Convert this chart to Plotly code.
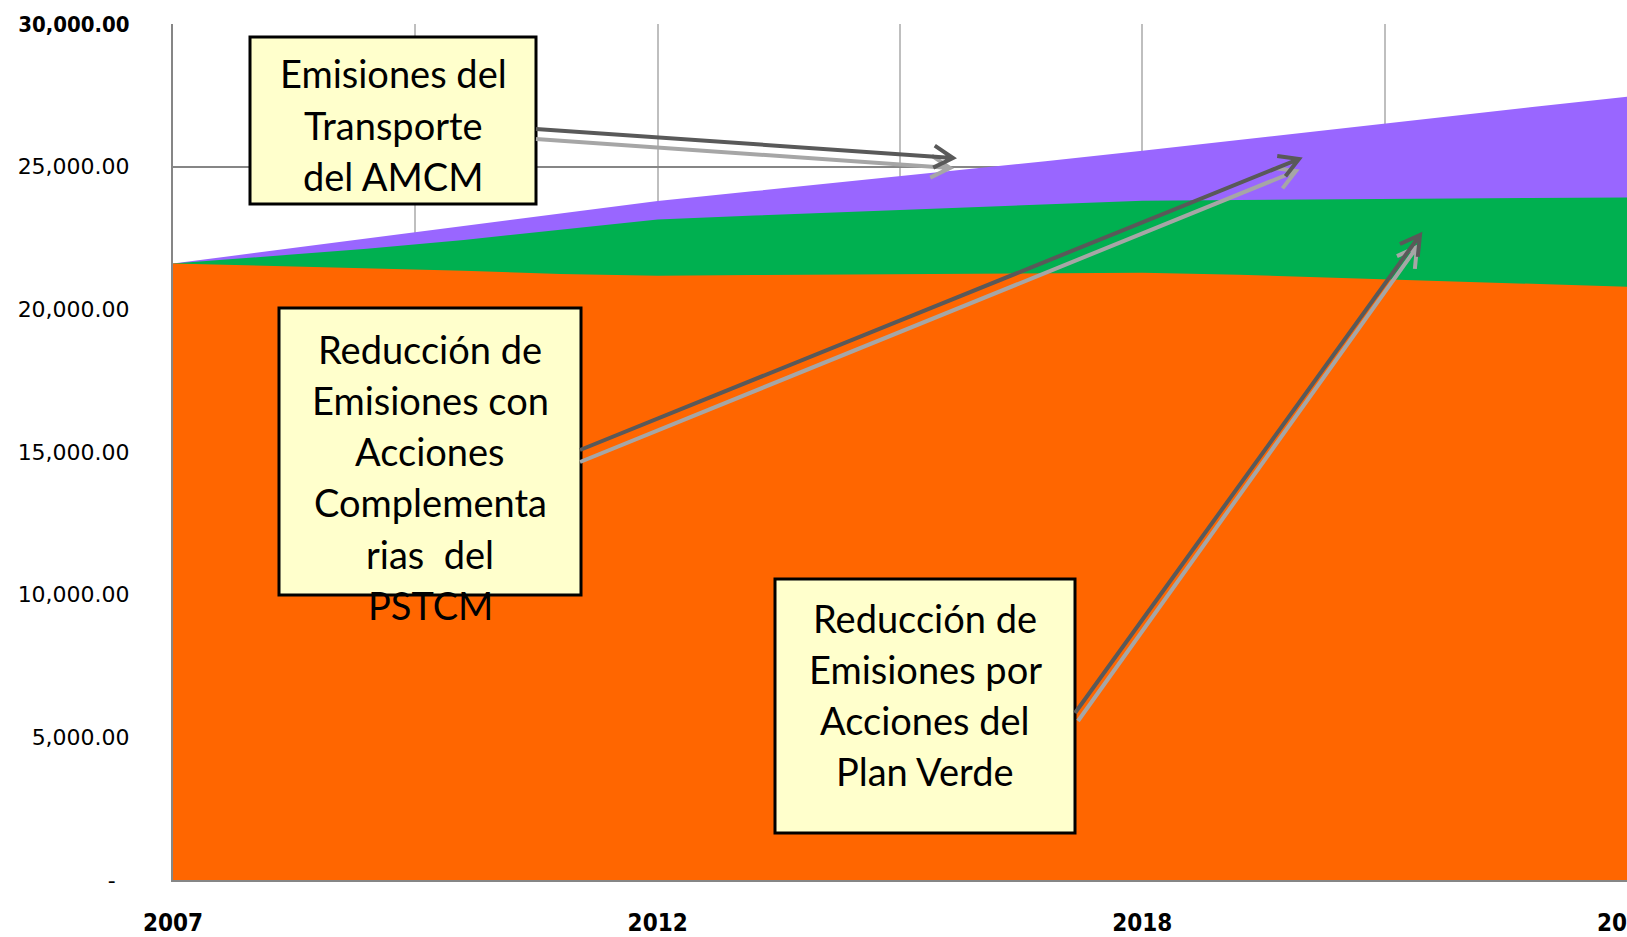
"""
Emisiones del transporte del AMCM - area chart with callout boxes
"""

import math
import plotly.graph_objects as go

# --- data ---
period_idx = list(range(16))
transport_total = [21605, 22046, 22488, 22925, 23357, 23800, 24144, 24488,
                   24832, 25190, 25555, 25938, 26330, 26711, 27082, 27450]
with_plan_verde = [21605, 21860, 22120, 22430, 22800, 23150, 23287, 23420,
                   23552, 23677, 23805, 23830, 23860, 23890, 23905, 23920]
with_pstcm = [21605, 21522, 21438, 21350, 21240, 21175, 21200, 21225,
              21245, 21265, 21280, 21215, 21110, 20980, 20880, 20790]

x_tick_pos = [0, 2.5, 5, 7.5, 10, 12.5, 15]
x_tick_labels = ['2007', '', '2012', '', '2018', '', '2023']
y_tick_vals = [0, 5000, 10000, 15000, 20000, 25000, 30000]
y_tick_labels = ['-  ', '5,000.00', '10,000.00', '15,000.00', '20,000.00',
                 '25,000.00',
                 '<span style="font-family:DejaVu Sans Condensed;font-weight:bold">30,000.00</span>']

box_texts = [
    ['Emisiones del', 'Transporte', 'del AMCM'],
    ['Reducción de', 'Emisiones con', 'Acciones', 'Complementa', 'rias  del', 'PSTCM'],
    ['Reducción de', 'Emisiones por', 'Acciones del', 'Plan Verde'],
]

# plot area in pixels (figure is 1627 x 937)
PL, PR, PT, PB = 173, 1627, 24, 880


def to_paper(x, y):
    """pixel position -> paper coordinates"""
    return (x - PL) / (PR - PL), (PB - y) / (PB - PT)


def arrow_path(x0, y0, x1, y1, head=22, ang=30):
    dx, dy = x1 - x0, y1 - y0
    L = math.hypot(dx, dy)
    ux, uy = -dx / L, -dy / L
    pts = []
    for s in (1, -1):
        a = math.radians(ang * s)
        bx = ux * math.cos(a) - uy * math.sin(a)
        by = ux * math.sin(a) + uy * math.cos(a)
        pts.append((x1 + bx * head, y1 + by * head))
    p = [to_paper(*q) for q in [(x0, y0), (x1, y1), pts[0], pts[1]]]
    return (f"M {p[0][0]} {p[0][1]} L {p[1][0]} {p[1][1]} "
            f"M {p[2][0]} {p[2][1]} L {p[1][0]} {p[1][1]} L {p[3][0]} {p[3][1]}")


fig = go.Figure()

series = [
    ('Emisiones del Transporte del AMCM', transport_total, '#9966FF'),
    ('Con acciones del Plan Verde', with_plan_verde, '#00B050'),
    ('Con acciones complementarias del PSTCM', with_pstcm, '#FF6600'),
]
for name, vals, color in series:
    fig.add_trace(go.Scatter(
        x=period_idx, y=vals, name=name, mode='lines',
        line=dict(width=0, color=color),
        fill='tozeroy', fillcolor=color,
        hoverinfo='skip'
    ))

shapes = []
annotations = []

# callout boxes (pixel rects) and their text lines
boxes = [
    ((250, 37, 536, 204), 393, [73, 125, 176]),
    ((279, 308, 581, 595), 430, [349, 400, 451, 502, 554, 605]),
    ((775, 579, 1075, 833), 925, [618, 669, 720, 771]),
]
for (x0, y0, x1, y1), cx, line_y in boxes:
    a0 = to_paper(x0, y1)
    a1 = to_paper(x1, y0)
    shapes.append(dict(type='rect', xref='paper', yref='paper',
                       x0=a0[0], y0=a0[1], x1=a1[0], y1=a1[1],
                       fillcolor='#FFFFCC', line=dict(color='black', width=3),
                       layer='above'))
for ((_, _, _, _), cx, line_y), lines in zip(boxes, box_texts):
    for ly, txt in zip(line_y, lines):
        px_, py_ = to_paper(cx, ly)
        annotations.append(dict(x=px_, y=py_, xref='paper', yref='paper',
                                text=txt, showarrow=False,
                                xanchor='center', yanchor='middle',
                                font=dict(family='Lato, Carlito, sans-serif',
                                          size=38, color='black')))

# double arrows: light shadow underneath, dark on top
arrows = [
    ((536, 139, 950, 168), (536, 129, 953, 158)),
    ((580, 462, 1296, 171), (580, 450, 1299, 159)),
    ((1078, 721, 1417, 247), (1075, 713, 1420, 235)),
]
for light, dark in arrows:
    shapes.append(dict(type='path', xref='paper', yref='paper',
                       path=arrow_path(*light), layer='above',
                       line=dict(color='#A6A6A6', width=4)))
    shapes.append(dict(type='path', xref='paper', yref='paper',
                       path=arrow_path(*dark), layer='above',
                       line=dict(color='#595959', width=4)))

fig.update_layout(
    width=1627, height=937,
    margin=dict(l=PL, r=0, t=PT, b=937 - PB, autoexpand=False),
    plot_bgcolor='white', paper_bgcolor='white',
    showlegend=False,
    shapes=shapes,
    annotations=annotations,
)

fig.update_xaxes(
    range=[0, 15], tickmode='array', tickvals=x_tick_pos, ticktext=x_tick_labels,
    showgrid=True, gridcolor='#BFBFBF', gridwidth=2,
    showline=True, linecolor='#868686', linewidth=2,
    zeroline=False, ticks='', ticklabelstandoff=20, automargin=False,
    ticklabeloverflow='allow',
    tickfont=dict(family='Liberation Sans Narrow, DejaVu Sans Condensed, sans-serif',
                  size=24, color='black', weight='bold')
)
fig.update_yaxes(
    range=[0, 30000], tickmode='array', tickvals=y_tick_vals, ticktext=y_tick_labels,
    showgrid=True, gridcolor='#868686', gridwidth=2,
    showline=True, linecolor='#868686', linewidth=2,
    zeroline=False, ticks='', ticklabelstandoff=37, automargin=False,
    tickfont=dict(family='DejaVu Sans, Verdana, sans-serif', size=22, color='black')
)

fig.write_html("out.html", config={'displayModeBar': False},
               post_script="document.body.style.margin='0';")
